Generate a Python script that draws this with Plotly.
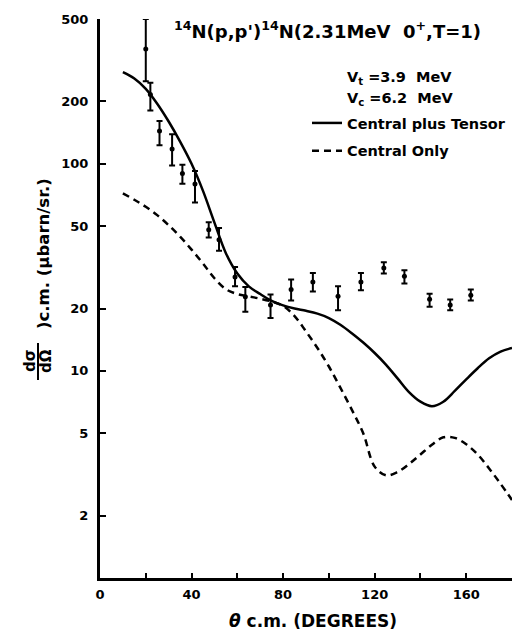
import plotly.graph_objects as go

# ---- data ----
theta_data = [20, 22, 26, 31.5, 36, 41.5, 47.5, 52, 59, 63.5, 74.5, 83.5, 93, 104, 114, 124, 133, 144, 153, 162]
sigma_data = [358, 216, 144, 118, 89.8, 79.8, 48, 43, 28.4, 22.8, 20.8, 24.7, 26.9, 22.9, 26.9, 31.4, 28.6, 22.2, 20.8, 23.2]
sigma_hi = [500, 246, 161, 139, 98.9, 92.4, 52.2, 49, 31.7, 25.4, 23.4, 27.6, 29.7, 25.6, 29.7, 33.5, 30.6, 23.6, 22.1, 24.7]
sigma_lo = [250, 181, 123, 98, 80, 65, 44, 38, 25.6, 19.3, 18.0, 21.9, 24.2, 19.6, 24.5, 29.5, 26.4, 20.4, 19.6, 21.9]

theta_curve = [10, 15, 20, 25, 30, 35, 40, 45, 50, 55, 60, 65, 70, 75, 80, 85, 90, 95, 100, 105,
               110, 115, 120, 125, 130, 135, 140, 145, 150, 155, 160, 165, 170, 175, 180]
sigma_ct = [277, 258, 230, 195, 160, 128, 100, 74, 52, 37, 29.5, 25.6, 23.5, 21.8, 20.7, 20.0, 19.5, 18.9,
            18.0, 16.7, 15.2, 13.7, 12.2, 10.7, 9.2, 7.9, 7.1, 6.75, 7.1, 8.0, 9.1, 10.3, 11.5, 12.4, 12.9]
sigma_c = [72, 67, 62, 56.5, 50.5, 44.5, 38.5, 33, 28, 24.8, 23.5, 22.9, 22.3, 21.6, 20.6, 18.4, 15.5, 12.9,
           10.5, 8.3, 6.5, 5.0, 3.45, 3.13, 3.25, 3.55, 3.95, 4.4, 4.78, 4.75, 4.42, 3.95, 3.38, 2.85, 2.38]

y_tickvals = [2, 5, 10, 20, 50, 100, 200, 500]
y_ticktext = ["2", "5", "10", "20", "50", "100", "200", "500"]
x_tickvals = [0, 40, 80, 120, 160]
x_ticktext = ["0", "40", "80", "120", "160"]

FONT = "DejaVu Sans"

W, H = 514, 636
L, R, T, B = 100, 2, 19, 58
PW, PH = W - L - R, H - T - B


def px_x(p):
    return (p - L) / PW


def px_y(p):
    return (H - B - p) / PH


def bold(size):
    return dict(family=FONT, size=size, color="black", weight="bold")


fig = go.Figure()

fig.add_trace(go.Scatter(
    x=theta_curve, y=sigma_ct, mode="lines", name="Central plus Tensor",
    line=dict(color="black", width=2.5, shape="spline", smoothing=1.0),
    legendgroup="a",
))
fig.add_trace(go.Scatter(
    x=theta_curve, y=sigma_c, mode="lines", name="Central Only",
    line=dict(color="black", width=2.5, dash="7px,5px", shape="spline", smoothing=1.0),
    legendgroup="b",
))
fig.add_trace(go.Scatter(
    x=theta_data, y=sigma_data, mode="markers", showlegend=False,
    marker=dict(color="black", size=5),
    error_y=dict(type="data", symmetric=False,
                 array=[h - v for h, v in zip(sigma_hi, sigma_data)],
                 arrayminus=[v - l for l, v in zip(sigma_lo, sigma_data)],
                 color="black", thickness=2, width=3),
))

fig.update_layout(
    width=W, height=H,
    margin=dict(l=L, r=R, t=T, b=B),
    paper_bgcolor="white", plot_bgcolor="white",
    font=dict(family=FONT, color="black"),
    showlegend=True,
    legend=dict(x=px_x(307), y=px_y(107), xanchor="left", yanchor="top",
                bgcolor="rgba(0,0,0,0)", traceorder="grouped", tracegroupgap=6,
                font=bold(14.5)),
)

fig.update_xaxes(
    range=[0, 180], showgrid=False, zeroline=False,
    showline=True, linecolor="black", linewidth=3,
    ticks="inside", ticklen=5, tickwidth=2, tickcolor="black",
    tickvals=x_tickvals, ticktext=x_ticktext,
    minor=dict(tickvals=[20, 60, 100, 140], ticks="inside", ticklen=5, tickwidth=2, tickcolor="black"),
    tickfont=bold(13),
    ticklabelstandoff=2,
)
fig.update_yaxes(
    type="log", range=[0, 2.699], showgrid=False, zeroline=False,
    showline=True, linecolor="black", linewidth=3,
    ticks="inside", ticklen=6, tickwidth=2, tickcolor="black",
    tickvals=y_tickvals, ticktext=y_ticktext,
    tickfont=bold(13),
    ticklabelstandoff=6,
)

# title
fig.add_annotation(
    text="<sup>14</sup>N(p,p')<sup>14</sup>N(2.31MeV  0<sup>+</sup>,T=1)",
    xref="paper", yref="paper", x=px_x(327), y=px_y(30), xanchor="center", yanchor="middle",
    showarrow=False, font=bold(18),
)
fig.add_annotation(
    text="V<sub>t</sub> =3.9  MeV", xref="paper", yref="paper",
    x=px_x(345), y=px_y(78), xanchor="left", yanchor="middle", showarrow=False, font=bold(14.5),
)
fig.add_annotation(
    text="V<sub>c</sub> =6.2  MeV", xref="paper", yref="paper",
    x=px_x(345), y=px_y(99), xanchor="left", yanchor="middle", showarrow=False, font=bold(14.5),
)

# x-axis title
fig.add_annotation(
    text="<i>θ</i> c.m. (DEGREES)", xref="paper", yref="paper",
    x=px_x(313), y=px_y(621), xanchor="center", yanchor="middle", showarrow=False,
    font=bold(17),
)

# y-axis title (fraction + text)
fig.add_annotation(
    text=")c.m. (μbarn/sr.)", xref="paper", yref="paper",
    x=px_x(43), y=px_y(254), xanchor="center", yanchor="middle", textangle=-90,
    showarrow=False, font=bold(16.5),
)
fig.add_annotation(
    text="dσ", xref="paper", yref="paper",
    x=px_x(30), y=px_y(361), xanchor="center", yanchor="middle", textangle=-90,
    showarrow=False, font=bold(15),
)
fig.add_annotation(
    text="dΩ", xref="paper", yref="paper",
    x=px_x(46), y=px_y(361), xanchor="center", yanchor="middle", textangle=-90,
    showarrow=False, font=bold(15),
)
fig.add_shape(
    type="line", xref="paper", yref="paper",
    x0=px_x(38), x1=px_x(38), y0=px_y(343), y1=px_y(380),
    line=dict(color="black", width=2),
)

fig.write_html("out.html")
